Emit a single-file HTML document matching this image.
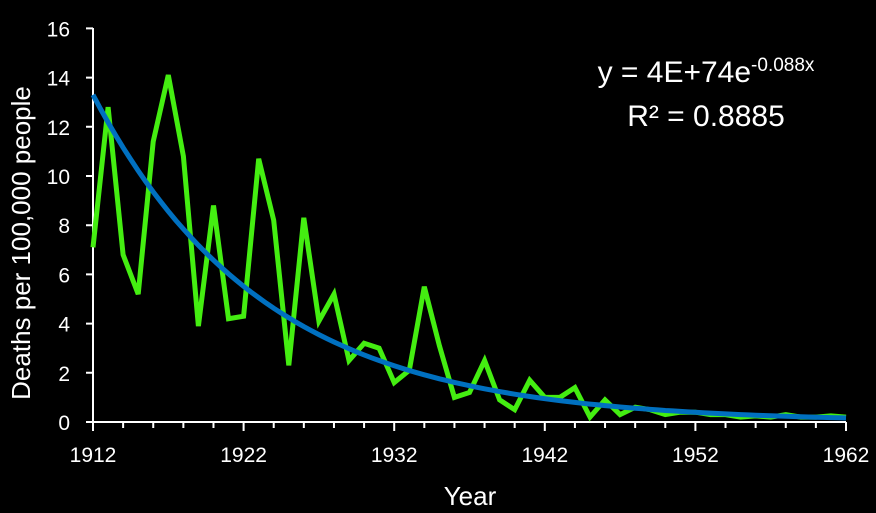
<!DOCTYPE html>
<html><head><meta charset="utf-8"><style>
html,body{margin:0;padding:0;background:#000;}
svg{display:block;}
text{font-family:"Liberation Sans",sans-serif;fill:#fff;}
</style></head><body>
<svg id="s" width="876" height="513" viewBox="0 0 876 513">
<rect width="876" height="513" fill="#000"/>
<g id="axes" stroke="#fff" stroke-width="2" fill="none"></g>
<g id="lab" font-size="21"></g>
<text x="30" y="243" font-size="26" text-anchor="middle" transform="rotate(-90 30 243)">Deaths per 100,000 people</text>
<text x="470" y="505" font-size="26" text-anchor="middle">Year</text>
<path id="g" fill="none" stroke="#44ee11" stroke-width="5" stroke-linejoin="miter"/>
<path id="b" fill="none" stroke="#0070c0" stroke-width="5"/>
<text x="706" y="82" font-size="30" text-anchor="middle">y = 4E+74e<tspan font-size="19" dy="-11">-0.088x</tspan></text>
<text x="706" y="126" font-size="30" text-anchor="middle">R² = 0.8885</text>
</svg>
<script>
var d=[7.1,12.8,6.8,5.2,11.4,14.1,10.8,3.9,8.8,4.2,4.3,10.7,8.2,2.3,8.3,4.1,5.2,2.5,3.2,3.0,1.6,2.1,5.5,3.1,1.0,1.2,2.5,0.9,0.5,1.7,1.0,1.0,1.4,0.2,0.9,0.3,0.6,0.5,0.3,0.4,0.4,0.3,0.3,0.2,0.25,0.2,0.3,0.2,0.2,0.25,0.2];
function X(t){return 93+15.06*t}function Y(v){return 422-24.6*v}
var p="";d.forEach(function(v,i){p+=(i?"L":"M")+X(i).toFixed(1)+","+Y(v).toFixed(1)});
document.getElementById("g").setAttribute("d",p);
var q="";for(var t=0;t<=50;t+=0.5){q+=(t?"L":"M")+X(t).toFixed(1)+","+Y(13.3*Math.exp(-0.088*t)).toFixed(1)}
document.getElementById("b").setAttribute("d",q);
var a="M93,28L93,422L846,422",l="";
for(var v=0;v<=16;v+=2){a+="M86,"+Y(v)+"L93,"+Y(v);l+='<text x="70" y="'+(Y(v)+8)+'" text-anchor="end">'+v+'</text>';}
for(var t=0;t<=50;t+=2){var L=(t%10==0)?9:6;a+="M"+X(t)+",422L"+X(t)+","+(422+L);}
for(var t=0;t<=50;t+=10){l+='<text x="'+X(t)+'" y="462" text-anchor="middle">'+(1912+t)+'</text>';}
var ax=document.getElementById("axes");ax.innerHTML='<path d="'+a+'"/>';
document.getElementById("lab").innerHTML=l;
</script>
</body></html>
